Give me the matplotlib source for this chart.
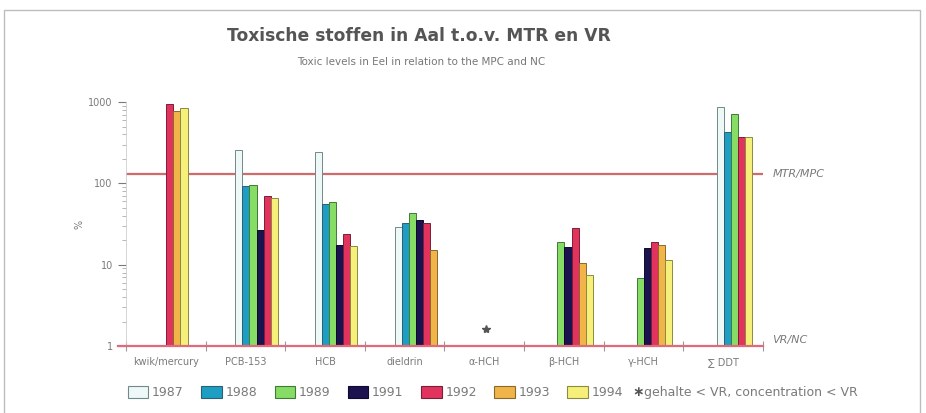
import numpy as np
import matplotlib.pyplot as plt
from matplotlib.patches import Patch, Rectangle

# ============================
# DATA
# ============================
categories = ["kwik/mercury", "PCB-153", "HCB", "dieldrin",
              "\u03b1-HCH", "\u03b2-HCH", "\u03b3-HCH", "\u2211 DDT"]
years = ["1987", "1988", "1989", "1991", "1992", "1993", "1994"]

nan = np.nan
v1987 = [nan, 255, 240, 29, nan, nan, nan, 880]
v1988 = [nan, 92, 55, 33, nan, nan, nan, 430]
v1989 = [nan, 95, 59, 43, nan, 19, 6.9, 720]
v1991 = [nan, 27, 17.5, 35, nan, 16.5, 16, nan]
v1992 = [940, 70, 24, 33, nan, 28, 19, 375]
v1993 = [780, nan, nan, 15, nan, 10.6, 17.5, nan]
v1994 = [840, 66, 17, nan, nan, 7.5, 11.4, 370]
values = [v1987, v1988, v1989, v1991, v1992, v1993, v1994]

# alpha-HCH: gehalte < VR
below_vr_cat = 4
below_vr_val = 1.6

mtr = 130   # MTR/MPC
vr = 1      # VR/NC

colors = ["#eef8f6", "#1f9ec4", "#86dc64", "#1b1250",
          "#e2335e", "#f0b448", "#f6f07a"]
edges = ["#6f8a88", "#2f5f70", "#3f7a38", "#0e0a2a",
         "#7a2036", "#8a6a2a", "#8a8a40"]

grey = "#7a7a7a"

# ============================
# FIGUUR
# ============================
fig = plt.figure(figsize=(9.26, 4.13), dpi=100)
ax = fig.add_axes([0.136, 0.162, 0.688, 0.591])

w = 0.089
shift = 0.14
for c in range(len(categories)):
    present = [k for k in range(len(years)) if not np.isnan(values[k][c])]
    n = len(present)
    start = c + 0.5 + shift - n * w / 2
    for j, k in enumerate(present):
        ax.bar(start + j * w, values[k][c] - vr, width=w, bottom=vr,
               align="edge", color=colors[k], edgecolor=edges[k],
               linewidth=0.7, zorder=2)

ax.plot(below_vr_cat + 0.52, below_vr_val, marker="*", color="#555555",
        markersize=6, linestyle="none", zorder=3)

ax.set_yscale("log")
ax.set_ylim(1, 1000)
ax.set_xlim(0, len(categories))

# referentielijnen
ax.axhline(mtr, color="#cf6b6b", linewidth=1.6, zorder=1)
ax.axhline(vr, xmin=-0.013, xmax=1.0, color="#e06a7a", linewidth=1.6,
           zorder=4, clip_on=False)
ax.text(len(categories) + 0.12, mtr, "MTR/MPC", color=grey, fontsize=8,
        va="center", ha="left", style="italic")
ax.text(len(categories) + 0.12, vr * 1.18, "VR/NC", color=grey, fontsize=8,
        va="center", ha="left", style="italic")

# assen
for s in ["top", "right", "bottom"]:
    ax.spines[s].set_visible(False)
ax.spines["left"].set_color("#cfcfcf")
ax.spines["left"].set_linewidth(0.6)

ax.set_yticks([1, 10, 100, 1000])
ax.set_yticklabels(["1", "10", "100", "1000"])
ax.tick_params(axis="y", which="major", labelsize=7, colors=grey,
               length=6, width=0.8)
ax.tick_params(axis="y", which="minor", length=3, width=0.5, colors="#9a9a9a")
ax.set_ylabel("%", color=grey, fontsize=7, labelpad=3)

ax.set_xticks(np.arange(len(categories)) + 0.5)
ax.set_xticklabels(categories)
ax.set_xticks(np.arange(len(categories) + 1), minor=True)
ax.tick_params(axis="x", which="major", length=0, labelsize=7, colors=grey,
               pad=8)
ax.tick_params(axis="x", which="minor", length=7, width=0.8,
               colors="#9a9a9a", direction="inout")

# titels
fig.text(0.452, 0.913, "Toxische stoffen in Aal t.o.v. MTR en VR",
         ha="center", va="center", fontsize=12.3, color="#555555",
         fontweight="semibold")
fig.text(0.455, 0.851, "Toxic levels in Eel in relation to the MPC and NC",
         ha="center", va="center", fontsize=7.5, color="#777777")

# legenda
handles = [Patch(facecolor=colors[k], edgecolor=edges[k], linewidth=0.8)
           for k in range(len(years))]
fig.legend(handles, years, loc="center left", bbox_to_anchor=(0.138, 0.05),
           ncol=7, frameon=False, fontsize=9, handlelength=1.65,
           handleheight=1.15, handletextpad=0.3, columnspacing=1.38,
           borderpad=0, borderaxespad=0, labelcolor=grey)
fig.text(0.683, 0.05, "\u2217", ha="left", va="center", fontsize=10,
         color="#555555", fontweight="bold")
fig.text(0.696, 0.05, "gehalte < VR, concentration < VR", ha="left",
         va="center", fontsize=9, color=grey)

# kader
fig.patches.append(Rectangle((0.004, -0.05), 0.99, 1.025,
                             transform=fig.transFigure, fill=False,
                             edgecolor="#bdbdbd", linewidth=1.0))

fig.savefig("out.png", dpi=100)
